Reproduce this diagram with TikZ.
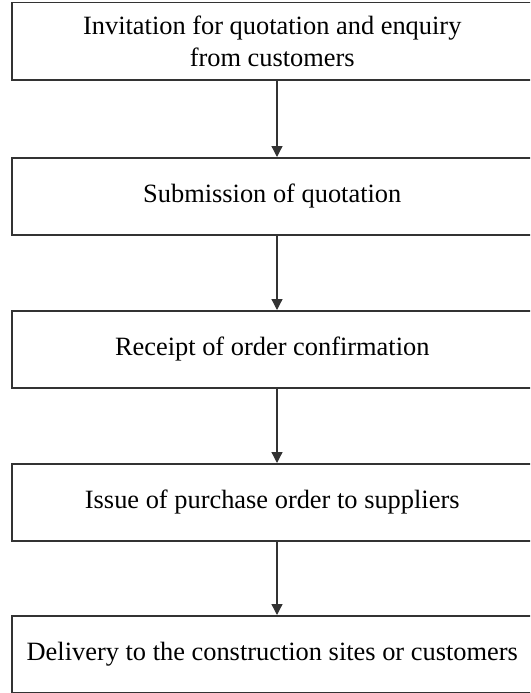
\documentclass[tikz,border=0pt]{standalone}
\usepackage{fontspec}
\setmainfont{Liberation Serif}
\usetikzlibrary{arrows.meta}
\begin{document}
\begin{tikzpicture}[x=1pt,y=-1pt,
  stepbox/.style={draw=black!80, line width=1.5pt, minimum width=521pt, minimum height=77pt,
    inner sep=0pt, align=center, font=\fontsize{26.4}{31.7}\selectfont, anchor=north west},
  conn/.style={draw=black!80, line width=1.3pt, -{Triangle[length=11pt,width=11pt]}}]
\useasboundingbox (0,0) rectangle (530,693);
\clip (0,0) rectangle (530,693);
\node[stepbox] (b1) at (11,2) {Invitation for quotation and enquiry\\from customers};
\node[stepbox] (b2) at (11,157) {Submission of quotation};
\node[stepbox] (b3) at (11,310) {Receipt of order confirmation};
\node[stepbox] (b4) at (11,463) {Issue of purchase order to suppliers};
\node[stepbox] (b5) at (11,615) {Delivery to the construction sites or customers};
\coordinate (x) at (277,0);
\draw[conn] (b1.south -| x) -- (b2.north -| x);
\draw[conn] (b2.south -| x) -- (b3.north -| x);
\draw[conn] (b3.south -| x) -- (b4.north -| x);
\draw[conn] (b4.south -| x) -- (b5.north -| x);
\end{tikzpicture}
\end{document}
